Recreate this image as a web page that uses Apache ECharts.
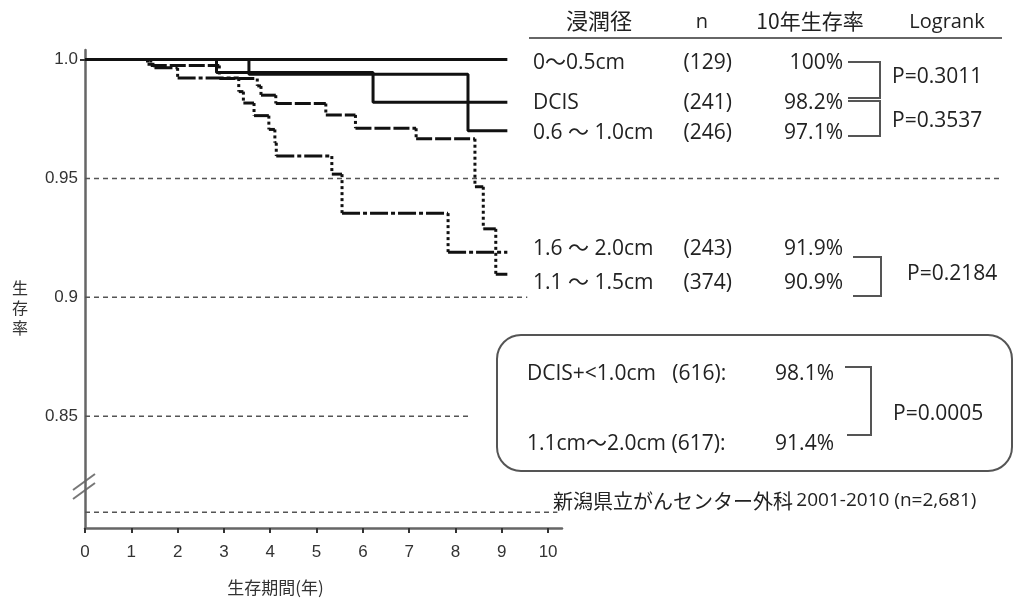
<!DOCTYPE html>
<html><head><meta charset="utf-8">
<script src="https://cdn.jsdelivr.net/npm/echarts@6/dist/echarts.min.js"></script>
<style>html,body{margin:0;padding:0;background:#fff}#c{width:1033px;height:601px}</style>
</head><body><div id="c"></div>
<script>
// ---- data ----
const xTickValues = [0,1,2,3,4,5,6,7,8,9,10];
const yTickValues = [0.85, 0.9, 0.95, 1.0];
const yTickText = ['0.85', '0.9', '0.95', '1.0'];
const refLineValues = [0.95, 0.9, 0.85, 0.8096];
const groupNames = ['0〜0.5cm', 'DCIS', '0.6 〜 1.0cm', '1.6 〜 2.0cm', '1.1 〜 1.5cm'];
const groupN = ['(129)', '(241)', '(246)', '(243)', '(374)'];
const groupRate = ['100%', '98.2%', '97.1%', '91.9%', '90.9%'];
const pValues = ['P=0.3011', 'P=0.3537', 'P=0.2184'];
const pooledNames = ['DCIS+<1.0cm   (616):', '1.1cm〜2.0cm (617):'];
const pooledRate = ['98.1%', '91.4%'];
const pooledP = 'P=0.0005';
// step curves: [time (years), survival after the step]
const curve0_05 = [[0,1],[9.12,1]];
const curveDCIS = [[0,1],[2.84,0.9945],[6.22,0.982],[9.12,0.982]];
const curve06_10 = [[0,1],[3.54,0.9938],[8.27,0.970],[9.12,0.970]];
const curve16_20 = [[0,1],[1.35,0.998],[1.5,0.9965],[2.0,0.9922],[3.32,0.9865],[3.42,0.9817],[3.65,0.9764],[3.97,0.9706],[4.1,0.965],[4.13,0.9594],[5.33,0.9518],[5.55,0.9354],[7.84,0.919],[9.12,0.919]];
const curve11_15 = [[0,1],[1.42,0.9975],[2.9,0.992],[3.72,0.9889],[3.8,0.985],[4.12,0.9815],[5.2,0.9767],[5.84,0.9711],[7.15,0.9667],[8.42,0.9465],[8.6,0.9288],[8.87,0.9097],[9.12,0.9097]];

// ---- helpers ----
function hSegs(c){const r=[];for(let i=0;i<c.length-1;i++)r.push([c[i][0],c[i][1],c[i+1][0],c[i][1]]);return r;}
function vSegs(c){const r=[];for(let i=1;i<c.length;i++)if(c[i][1]!==c[i-1][1])r.push([c[i][0],c[i-1][1],c[i][0],c[i][1]]);return r;}
function segSeries(data, style, z){
  return {type:'custom', z:z||3, silent:true, data:data, encode:{x:[0,2],y:[1,3]},
    renderItem:function(params, api){
      const p1 = api.coord([api.value(0), api.value(1)]);
      const p2 = api.coord([api.value(2), api.value(3)]);
      return {type:'line', shape:{x1:p1[0],y1:p1[1],x2:p2[0],y2:p2[1]}, style:Object.assign({fill:null}, style)};
    }};
}
const refEnds = [19.76, 9.55, 8.32, 10.2];
const refData = refLineValues.map((v,i)=>[0, v, refEnds[i], v]);

const F = "'Open Sans', 'Noto Sans CJK JP', sans-serif";
const FJ = "'Noto Sans CJK JP', sans-serif";
const TS = 21;
const rowY = [63, 103, 133, 249, 283];
const gray = '#555';
function txt(x,y,t,align,size,fam){return {type:'text', x:x, y:y, style:{text:t, fill:'#222', font:(size||TS)+'px '+(fam||F), textAlign:align||'left', textVerticalAlign:'middle'}};}
function poly(pts){return {type:'polyline', shape:{points:pts}, style:{stroke:gray, lineWidth:2, fill:null}};}

const graphics = [];
// header
graphics.push(txt(599,21,'浸潤径','center',22,FJ));
graphics.push(txt(702,22,'n','center',20));
graphics.push(txt(810,21,'10年生存率','center',21,FJ));
graphics.push(txt(947,22,'Logrank','center',20));
graphics.push({type:'line', shape:{x1:529,y1:38,x2:1002,y2:38}, style:{stroke:'#666', lineWidth:2}});
for (let i=0;i<groupNames.length;i++){
  graphics.push(txt(533,rowY[i],groupNames[i],'left'));
  graphics.push(txt(732,rowY[i],groupN[i],'right'));
  graphics.push(txt(843,rowY[i],groupRate[i],'right'));
}
graphics.push(poly([[848,62],[880,62],[880,98],[848,98]]));
graphics.push(poly([[848,101],[880,101],[880,136],[848,136]]));
graphics.push(txt(892,77,pValues[0],'left'));
graphics.push(txt(892,121,pValues[1],'left'));
graphics.push(poly([[853,257],[881,257],[881,296],[853,296]]));
graphics.push(txt(907,274,pValues[2],'left'));
// pooled box
graphics.push({type:'rect', shape:{x:497,y:335,width:515,height:136,r:24}, style:{stroke:gray, lineWidth:2, fill:null}});
graphics.push(txt(527,374,pooledNames[0],'left'));
graphics.push(txt(834,374,pooledRate[0],'right'));
graphics.push(txt(527,444,pooledNames[1],'left'));
graphics.push(txt(834,444,pooledRate[1],'right'));
graphics.push(poly([[845,367],[871,367],[871,435],[847,435]]));
graphics.push(txt(893,414,pooledP,'left'));
// footer
graphics.push({type:'text', x:553, y:501, style:{text:'{a|新潟県立がんセンター外科} {b|2001-2010 (n=2,681)}', textVerticalAlign:'middle', rich:{a:{font:'20px '+FJ, fill:'#222'}, b:{font:'19px '+F, fill:'#222'}}}});
// y axis name
graphics.push({type:'text', x:20, y:308, style:{text:'生\n存\n率', fill:'#333', font:'16px '+FJ, textAlign:'center', textVerticalAlign:'middle', lineHeight:20}});
// axis break marks
graphics.push({type:'line', shape:{x1:73,y1:499,x2:95,y2:483}, style:{stroke:'#777', lineWidth:2}});
graphics.push({type:'line', shape:{x1:73,y1:490,x2:95,y2:474}, style:{stroke:'#777', lineWidth:2}});

const solid = {color:'#111', width:3};
const option = {
  animation:false,
  backgroundColor:'#fff',
  grid:{left:85, top:50, right:471, bottom:68},
  xAxis:{type:'value', min:0, max:10.3, interval:1,
    name:'生存期間(年)', nameLocation:'middle', nameGap:51,
    nameTextStyle:{fontFamily:FJ, fontSize:17, color:'#333', padding:[0,0,0,-96]},
    axisLine:{lineStyle:{color:'#666', width:2.5}},
    axisTick:{show:true, customValues:xTickValues, length:5, lineStyle:{color:'#333', width:2}},
    axisLabel:{customValues:xTickValues, margin:16, fontFamily:'Liberation Sans, Arial', fontSize:17, color:'#333'},
    splitLine:{show:false}},
  yAxis:{type:'value', min:0.803, max:1.004,
    axisLine:{show:true, lineStyle:{color:'#666', width:2.5}},
    axisTick:{show:true, customValues:[1.0], length:5, lineStyle:{color:'#333', width:2}},
    axisLabel:{customValues:yTickValues, margin:7, fontFamily:'Liberation Sans, Arial', fontSize:17, color:'#333',
      formatter:function(v){const i=yTickValues.findIndex(t=>Math.abs(t-v)<1e-9);return i>=0?yTickText[i]:'';}},
    splitLine:{show:false}},
  series:[
    segSeries(refData, {stroke:gray, lineWidth:1.5, lineDash:[5,4]}, 1),
    {type:'line', data:curve0_05, step:'end', symbol:'none', lineStyle:solid, z:4},
    {type:'line', data:curveDCIS, step:'end', symbol:'none', lineStyle:solid, z:4},
    {type:'line', data:curve06_10, step:'end', symbol:'none', lineStyle:solid, z:4},
    segSeries(hSegs(curve16_20), {stroke:'#111', lineWidth:3, lineDash:[18,3,4,3]}, 3),
    segSeries(vSegs(curve16_20), {stroke:'#111', lineWidth:3, lineDash:[3,3]}, 3),
    segSeries(hSegs(curve11_15), {stroke:'#111', lineWidth:3, lineDash:[16,3]}, 3),
    segSeries(vSegs(curve11_15), {stroke:'#111', lineWidth:3, lineDash:[3,3]}, 3)
  ],
  graphic:{elements:graphics}
};
const chart = echarts.init(document.getElementById('c'), null, {renderer:'canvas'});
chart.setOption(option);
</script>
</body></html>
